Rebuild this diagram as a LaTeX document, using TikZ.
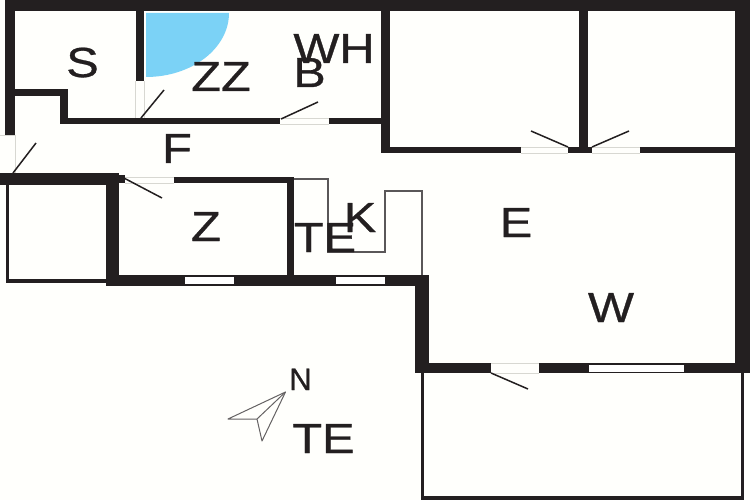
\documentclass[tikz,border=0pt]{standalone}
\usepackage{fontspec}
\setmainfont{Liberation Sans}[RawFeature={embolden=0.7}]
\definecolor{wallc}{HTML}{231F20}
\definecolor{showerc}{HTML}{7BD2F6}
\definecolor{gapc}{HTML}{D8D8D2}
\tikzset{
  wall/.style={fill=wallc,draw=none},
  thinwall/.style={draw=wallc,line width=3.3pt,line join=miter},
  fixture/.style={draw=wallc!75,line width=1.5pt},
  doorleaf/.style={draw=wallc,line width=1.5pt},
  gapline/.style={draw=gapc,line width=0.7pt},
  pane/.style={fill=white,draw=none},
  roomlabel/.style={font=\fontsize{42}{42}\selectfont,text=wallc,inner sep=0pt,anchor=base,xscale=1.16},
  northlabel/.style={font=\fontsize{31}{31}\selectfont,text=wallc,inner sep=0pt,anchor=base},
  needle/.style={draw=wallc!70,line width=1pt,line join=round}
}
\begin{document}
\begin{tikzpicture}[x=1pt,y=-1pt]
\useasboundingbox (0,0) rectangle (750,500);
\fill[white!99!yellow] (0,0) rectangle (750,500);
% shower
\fill[showerc] (146,13) -- (229,13) arc[start angle=0,end angle=90,x radius=83,y radius=64] -- cycle;
% thin outlines
\draw[thinwall] (7.5,184) -- (7.5,281) -- (107,281);
\draw[thinwall] (422.5,373) -- (422.5,498) -- (742.5,498) -- (742.5,373);
\draw[fixture] (294,179) -- (328,179) -- (328,252) -- (385,252) -- (385,191) -- (422,191) -- (422,276);
% heavy walls
\fill[wall] (5,0) rectangle (750,11);
\fill[wall] (5,0) rectangle (15,135);
\fill[wall] (136,10) rectangle (144,81);
\fill[wall] (15,89) rectangle (68,96);
\fill[wall] (60,89) rectangle (68,124);
\fill[wall] (60,118) rectangle (280,124);
\fill[wall] (329,118) rectangle (381,124);
\fill[wall] (381,10) rectangle (390,153);
\fill[wall] (381,147) rectangle (521,153);
\fill[wall] (568,147) rectangle (592,153);
\fill[wall] (640,147) rectangle (735,153);
\fill[wall] (579,10) rectangle (588,153);
\fill[wall] (735,0) rectangle (750,373);
\fill[wall] (0,173) rectangle (119,185);
\fill[wall] (106,173) rectangle (119,286);
\fill[wall] (119,175) rectangle (125,183);
\fill[wall] (174,177) rectangle (294,183);
\fill[wall] (287,177) rectangle (294,276);
\fill[wall] (106,275) rectangle (429,286);
\fill[wall] (415,275) rectangle (429,373);
\fill[wall] (415,363) rectangle (491,373);
\fill[wall] (539,363) rectangle (750,373);
% windows
\fill[pane] (185,277) rectangle (234,284);
\fill[pane] (336,277) rectangle (385,284);
\fill[pane] (589,365) rectangle (684,372);
% door openings
\draw[gapline] (135,81) -- (135,118) (144,81) -- (144,118);
\draw[gapline] (280,118) -- (329,118) (280,124) -- (329,124);
\draw[gapline] (521,147) -- (568,147) (521,153) -- (568,153);
\draw[gapline] (592,147) -- (640,147) (592,153) -- (640,153);
\draw[gapline] (0,135) -- (15,135) (15,135) -- (15,173);
\draw[gapline] (125,177) -- (174,177) (125,183) -- (174,183);
\draw[gapline] (491,363) -- (539,363) (491,373) -- (539,373);
% door leaves
\draw[doorleaf] (141,118) -- (164,90);
\draw[doorleaf] (281,119) -- (318,102);
\draw[doorleaf] (568,147) -- (531,131);
\draw[doorleaf] (592,147) -- (629,131);
\draw[doorleaf] (13,173) -- (36,143);
\draw[doorleaf] (122,177) -- (162,198);
\draw[doorleaf] (491,373) -- (528,389);
% north arrow
\draw[needle] (285.5,392) -- (228,419) -- (257,419) -- (262,441) -- cycle;
\draw[needle] (285.5,392) -- (257,419);
% labels
\node[roomlabel] (s) at (82.5,77) {S};
\node[roomlabel] (zz) at (221,91) {ZZ};
\node[roomlabel] (wh) at (334,63) {WH};
\node[roomlabel] (b) at (309.5,87) {B};
\node[roomlabel] (f) at (177,163) {F};
\node[roomlabel] (z) at (206,241) {Z};
\node[roomlabel] (te1) at (325,252) {TE};
\node[roomlabel] (k) at (360,232) {K};
\node[roomlabel] (e) at (516,237) {E};
\node[roomlabel] (w) at (611,322) {W};
\node[roomlabel] (te2) at (323.5,453) {TE};
\node[northlabel] (n) at (300.5,390) {N};
\end{tikzpicture}
\end{document}
